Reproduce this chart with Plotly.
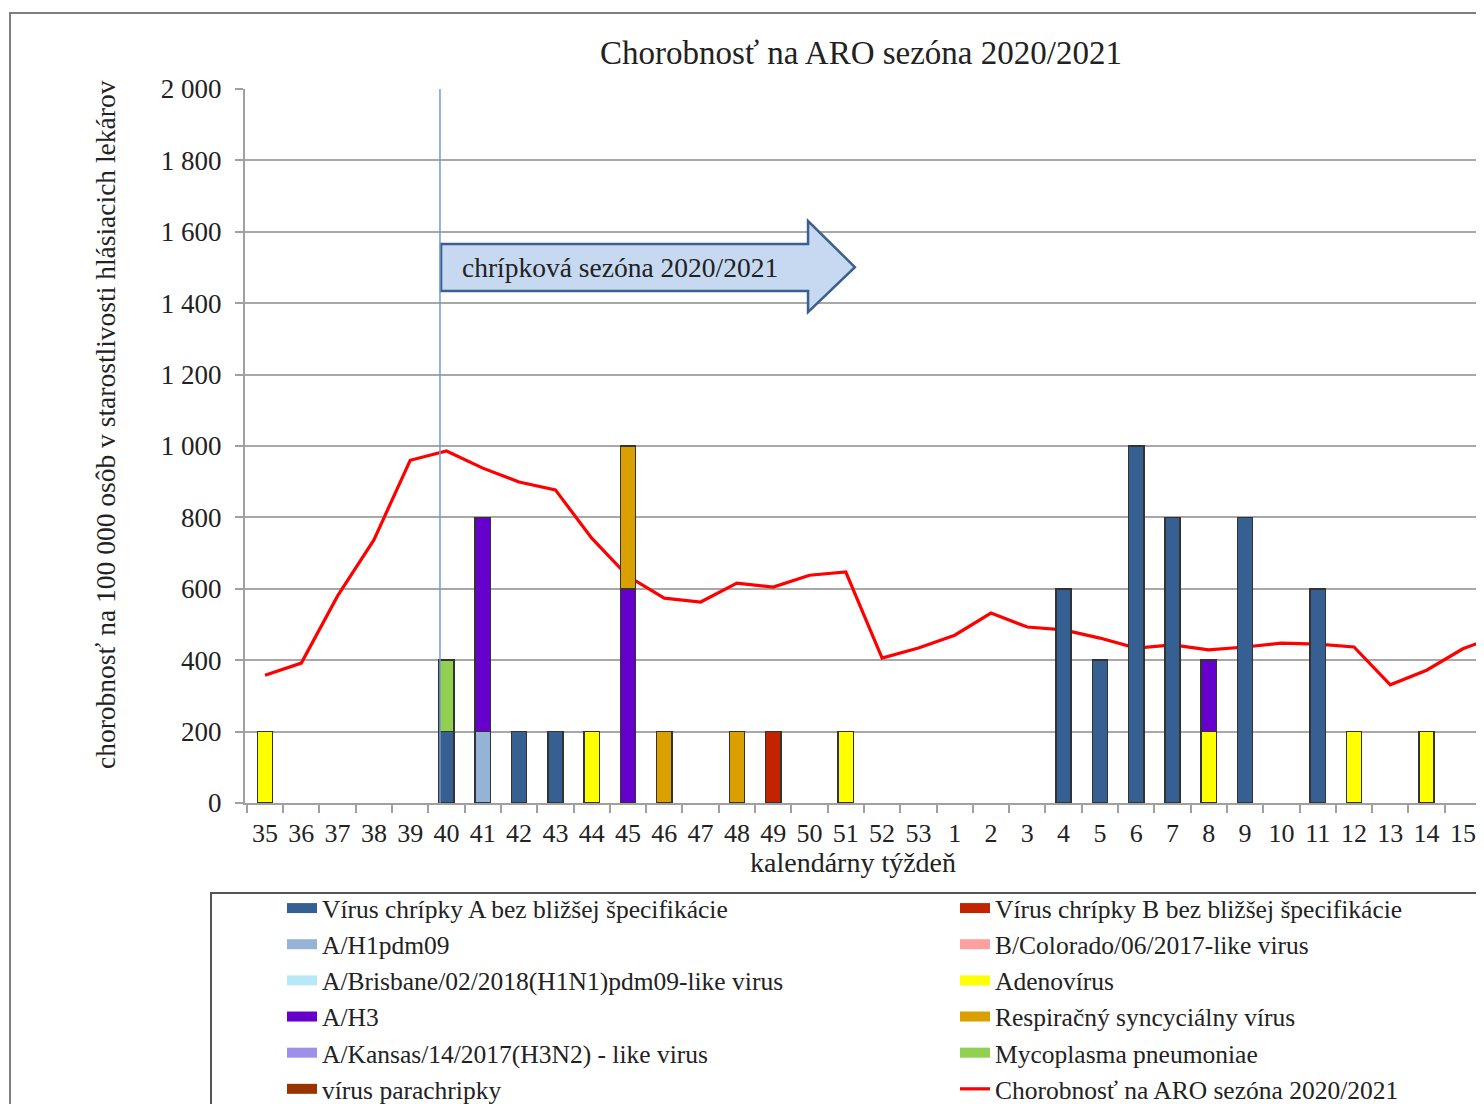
import plotly.graph_objects as go

# ---------------- data ----------------
weeks = [str(w) for w in range(35, 54)] + [str(w) for w in range(1, 17)]

# incidence of ARI per 100 000 (line)
aro_rate = [358, 392, 580, 737, 960, 986, 938, 899, 877, 742,
            635, 574, 563, 616, 605, 638, 647, 406, 434, 470,
            532, 493, 485, 462, 434, 443, 429, 437, 448, 445,
            437, 331, 372, 432, 470]

# positive detections (bars, 1 unit = 200 on the main scale)
virus_a      = [0, 0, 0, 0, 0, 1, 0, 1, 1, 0, 0, 0, 0, 0, 0, 0, 0, 0, 0, 0,
                0, 0, 3, 2, 5, 4, 0, 4, 0, 3, 0, 0, 0, 0, 0]
a_h1pdm09    = [0, 0, 0, 0, 0, 0, 1, 0, 0, 0, 0, 0, 0, 0, 0, 0, 0, 0, 0, 0,
                0, 0, 0, 0, 0, 0, 0, 0, 0, 0, 0, 0, 0, 0, 0]
a_brisbane   = [0] * 35
adenovirus   = [1, 0, 0, 0, 0, 0, 0, 0, 0, 1, 0, 0, 0, 0, 0, 0, 1, 0, 0, 0,
                0, 0, 0, 0, 0, 0, 1, 0, 0, 0, 1, 0, 1, 0, 0]
a_h3         = [0, 0, 0, 0, 0, 0, 3, 0, 0, 0, 3, 0, 0, 0, 0, 0, 0, 0, 0, 0,
                0, 0, 0, 0, 0, 0, 1, 0, 0, 0, 0, 0, 0, 0, 0]
a_kansas     = [0] * 35
parachripka  = [0] * 35
virus_b      = [0, 0, 0, 0, 0, 0, 0, 0, 0, 0, 0, 0, 0, 0, 1, 0, 0, 0, 0, 0,
                0, 0, 0, 0, 0, 0, 0, 0, 0, 0, 0, 0, 0, 0, 0]
b_colorado   = [0] * 35
rsv          = [0, 0, 0, 0, 0, 0, 0, 0, 0, 0, 2, 1, 0, 1, 0, 0, 0, 0, 0, 0,
                0, 0, 0, 0, 0, 0, 0, 0, 0, 0, 0, 0, 0, 0, 0]
mycoplasma   = [0, 0, 0, 0, 0, 1, 0, 0, 0, 0, 0, 0, 0, 0, 0, 0, 0, 0, 0, 0,
                0, 0, 0, 0, 0, 0, 0, 0, 0, 0, 0, 0, 0, 0, 0]

y_ticks = [0, 200, 400, 600, 800, 1000, 1200, 1400, 1600, 1800, 2000]
y_tick_text = ["0", "200", "400", "600", "800", "1 000", "1 200", "1 400",
               "1 600", "1 800", "2 000"]

# ---------------- figure ----------------
FONT = "Liberation Serif, Times New Roman, serif"
TXT = "#222222"
xs = list(range(len(weeks)))

# (name, values, color, legend, rank) in stacking order
series = [
    ("Vírus chrípky A bez bližšej špecifikácie", virus_a, "#376092", "legend", 1),
    ("A/H1pdm09", a_h1pdm09, "#95B3D7", "legend", 2),
    ("A/Brisbane/02/2018(H1N1)pdm09-like virus", a_brisbane, "#B7E8F8", "legend", 3),
    ("Adenovírus", adenovirus, "#FFFF00", "legend2", 9),
    ("A/H3", a_h3, "#6600CC", "legend", 4),
    ("A/Kansas/14/2017(H3N2) - like virus", a_kansas, "#9D8FEA", "legend", 5),
    ("vírus parachripky", parachripka, "#993300", "legend", 6),
    ("Vírus chrípky B bez bližšej špecifikácie", virus_b, "#C32400", "legend2", 7),
    ("B/Colorado/06/2017-like virus", b_colorado, "#FF9F9F", "legend2", 8),
    ("Respiračný syncyciálny vírus", rsv, "#DAA000", "legend2", 10),
    ("Mycoplasma pneumoniae", mycoplasma, "#92D050", "legend2", 11),
]

fig = go.Figure()
for name, vals, color, leg, rank in series:
    fig.add_trace(go.Bar(
        x=xs, y=[v if v else None for v in vals], name=name, yaxis="y2",
        marker=dict(color=color, line=dict(color="#333333", width=1.5)),
        width=0.42, showlegend=False,
    ))
# legend swatches (wide rectangles like the original)
for name, vals, color, leg, rank in series:
    fig.add_trace(go.Scatter(
        x=[xs[0]], y=[None], mode="lines", name=name,
        line=dict(color=color, width=15), legend=leg, legendrank=rank,
        hoverinfo="skip",
    ))

fig.add_trace(go.Scatter(
    x=xs, y=aro_rate, mode="lines", name="Chorobnosť na ARO sezóna 2020/2021",
    line=dict(color="#FF0000", width=3.2), legend="legend2", legendrank=12,
))

# ---- geometry (reference pixel coords; page adds an 8 px body margin) ----
OFF = 8
W, H = 1484 - OFF, 1104 - OFF
L, T, B = 245 - OFF, 89 - OFF, 803 - OFF
X0 = 265 - OFF            # centre of first category
PX_PER_CAT = 36.3
x_left = -(X0 - L) / PX_PER_CAT
x_right = x_left + (W - L) / PX_PER_CAT

def rx(px):   # reference x pixel -> paper
    return (px - OFF - L) / (W - L)

def ry(py):   # reference y pixel -> paper
    return (B - (py - OFF)) / (B - T)

# season arrow (annotation shape, in data coordinates)
ax0, ax1, ax2 = 4.85, 14.96, 16.25
fig.add_shape(
    type="path",
    path=(f"M {ax0},1434 L {ax0},1566 L {ax1},1566 L {ax1},1630 "
          f"L {ax2},1501 L {ax1},1375 L {ax1},1434 Z"),
    xref="x", yref="y", fillcolor="#C6D9F1",
    line=dict(color="#3B5F8F", width=2.5), layer="above",
)
fig.add_annotation(
    x=5.37, y=1501, xref="x", yref="y", text="chrípková sezóna 2020/2021",
    showarrow=False, xanchor="left", yanchor="middle",
    font=dict(family=FONT, size=27.5, color=TXT),
)
# season start line
fig.add_shape(type="line", x0=4.82, x1=4.82, y0=0, y1=2000, xref="x", yref="y",
              line=dict(color="#6F9BD6", width=1.5), layer="above")

# axis titles (placed as in the original)
fig.add_annotation(
    x=rx(105), y=ry(425), xref="paper", yref="paper", textangle=-90,
    text="chorobnosť na 100 000 osôb v starostlivosti hlásiacich lekárov",
    showarrow=False, xanchor="center", yanchor="middle",
    font=dict(family=FONT, size=27.5, color=TXT),
)
fig.add_annotation(
    x=rx(853), y=ry(862), xref="paper", yref="paper", text="kalendárny týždeň",
    showarrow=False, xanchor="center", yanchor="middle",
    font=dict(family=FONT, size=28, color=TXT),
)

# outer chart border
fig.add_shape(type="rect", xref="paper", yref="paper",
              x0=rx(10), x1=rx(1484 + 50), y0=ry(13), y1=ry(1104 + 50),
              line=dict(color="#7f7f7f", width=2), layer="below")
# legend box
fig.add_shape(type="rect", xref="paper", yref="paper",
              x0=rx(211), x1=rx(1484 + 50), y0=ry(893), y1=ry(1104 + 50),
              line=dict(color="#555555", width=2), layer="below")

legend_common = dict(yanchor="top", xanchor="left", bgcolor="rgba(0,0,0,0)",
                     font=dict(family=FONT, size=25.5, color=TXT),
                     traceorder="normal", tracegroupgap=0, itemwidth=30,
                     borderwidth=0)

fig.update_layout(
    width=W, height=H,
    margin=dict(l=L, r=0, t=T, b=H - B, pad=0, autoexpand=False),
    paper_bgcolor="white", plot_bgcolor="white",
    font=dict(family=FONT, size=24, color=TXT),
    title=dict(text="Chorobnosť na ARO sezóna 2020/2021",
               x=(861 - OFF) / W, xanchor="center",
               y=1 - (52 - OFF) / H, yanchor="middle",
               font=dict(family=FONT, size=33, color=TXT)),
    barmode="stack", bargap=0.5,
    showlegend=True,
    legend=dict(x=rx(282), y=ry(885), **legend_common),
    legend2=dict(x=rx(955), y=ry(885), **legend_common),
    xaxis=dict(
        range=[x_left, x_right], tickmode="array", tickvals=xs, ticktext=weeks,
        ticks="outside", ticklen=6, tickcolor="rgba(0,0,0,0)",
        showgrid=False, zeroline=False,
        showline=True, linecolor="#a0a0a0", linewidth=2,
        tickfont=dict(family=FONT, size=26, color=TXT),
        minor=dict(tick0=-0.5, dtick=1, ticks="outside", ticklen=8,
                   tickcolor="#a0a0a0", tickwidth=1.5, showgrid=False),
        automargin=False,
    ),
    yaxis=dict(
        range=[0, 2000], tickmode="array", tickvals=y_ticks, ticktext=y_tick_text,
        ticks="outside", ticklen=8, tickcolor="#a0a0a0", tickwidth=2,
        ticklabelstandoff=8,
        showgrid=True, gridcolor="#a8a8a8", gridwidth=2, zeroline=False,
        showline=True, linecolor="#a0a0a0", linewidth=2,
        tickfont=dict(family=FONT, size=27, color=TXT),
        automargin=False,
    ),
    yaxis2=dict(range=[0, 10], overlaying="y", visible=False, fixedrange=True),
)

fig.write_html("out.html")
